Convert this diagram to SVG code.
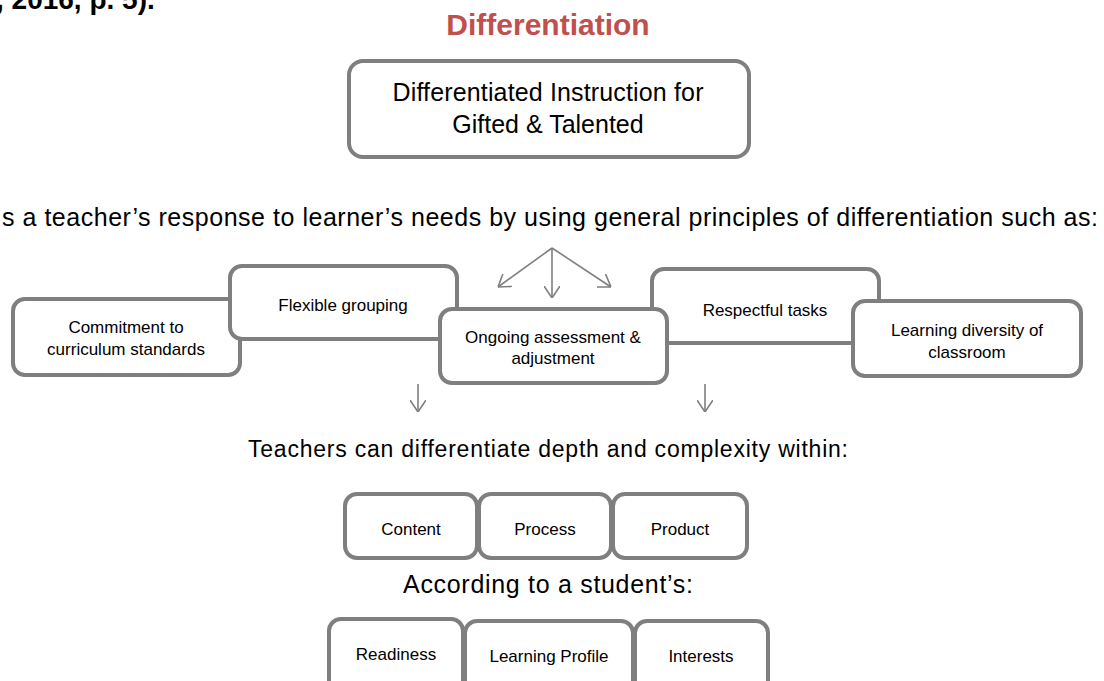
<svg xmlns="http://www.w3.org/2000/svg" width="1104" height="681" viewBox="0 0 1104 681">
<defs>
<marker id="vh" viewBox="0 0 12 16" refX="12" refY="8" markerWidth="12" markerHeight="16" markerUnits="userSpaceOnUse" orient="auto">
<path d="M0,0 L12,8 L0,16" fill="none" stroke="#7f7f7f" stroke-width="1.6"/>
</marker>
<style>
.box{fill:#fff;stroke:#7f7f7f;stroke-width:4}
.t{font-family:"Liberation Sans",Arial,sans-serif;fill:#000;text-anchor:middle}
.s{font-size:17px}
.m{font-size:23px}
.l{font-size:25px}
.c{fill:none;stroke:#7f7f7f;stroke-width:1.6}
</style>
</defs>
<text x="-4" y="9" font-family="Liberation Sans,Arial,sans-serif" font-weight="bold" font-size="28" fill="#000">, 2016, p. 5).</text>
<text class="t" x="548" y="35" font-size="30" font-weight="bold" style="fill:#c0504d">Differentiation</text>
<g id="n-main">
<rect class="box" x="349" y="61" width="400" height="96" rx="14"/>
<text class="t l" x="548" y="101" textLength="311">Differentiated Instruction for</text>
<text class="t l" x="548" y="133">Gifted &amp; Talented</text>
</g>
<text class="t l" x="2" y="226" style="text-anchor:start" textLength="1096">s a teacher’s response to learner’s needs by using general principles of differentiation such as:</text>
<g id="n-commit">
<rect class="box" x="13" y="299" width="227" height="76" rx="12"/>
<text class="t s" x="126" y="333">Commitment to</text>
<text class="t s" x="126" y="355">curriculum standards</text>
</g>
<g id="n-flex">
<rect class="box" x="230" y="266" width="227" height="73" rx="12"/>
<text class="t s" x="343" y="311">Flexible grouping</text>
</g>
<g id="n-resp">
<rect class="box" x="652" y="269" width="227" height="74" rx="12"/>
<text class="t s" x="765" y="316">Respectful tasks</text>
</g>
<g id="n-div">
<rect class="box" x="853" y="301" width="228" height="75" rx="12"/>
<text class="t s" x="967" y="336">Learning diversity of</text>
<text class="t s" x="967" y="358">classroom</text>
</g>
<g id="n-ongoing">
<rect class="box" x="440" y="309" width="227" height="74" rx="12"/>
<text class="t s" x="553" y="343">Ongoing assessment &amp;</text>
<text class="t s" x="553" y="364">adjustment</text>
</g>
<g id="connectors">
<line class="c" x1="552" y1="248" x2="498" y2="287" marker-end="url(#vh)"/>
<line class="c" x1="552" y1="248" x2="552" y2="298" marker-end="url(#vh)"/>
<line class="c" x1="552" y1="248" x2="611" y2="287" marker-end="url(#vh)"/>
<line class="c" x1="418" y1="384" x2="418" y2="412" marker-end="url(#vh)"/>
<line class="c" x1="705" y1="384" x2="705" y2="412" marker-end="url(#vh)"/>
</g>
<text class="t m" x="548" y="457" textLength="600">Teachers can differentiate depth and complexity within:</text>
<g id="n-content">
<rect class="box" x="345" y="494" width="132" height="64" rx="12"/>
<text class="t s" x="411" y="535">Content</text>
</g>
<g id="n-process">
<rect class="box" x="479" y="494" width="132" height="64" rx="12"/>
<text class="t s" x="545" y="535">Process</text>
</g>
<g id="n-product">
<rect class="box" x="613" y="494" width="134" height="64" rx="12"/>
<text class="t s" x="680" y="535">Product</text>
</g>
<text class="t l" x="548" y="593" textLength="290">According to a student’s:</text>
<g id="n-readiness">
<rect class="box" x="329" y="619" width="134" height="80" rx="12"/>
<text class="t s" x="396" y="660">Readiness</text>
</g>
<g id="n-profile">
<rect class="box" x="465" y="621" width="168" height="80" rx="12"/>
<text class="t s" x="549" y="662">Learning Profile</text>
</g>
<g id="n-interests">
<rect class="box" x="635" y="621" width="133" height="80" rx="12"/>
<text class="t s" x="701" y="662">Interests</text>
</g>
</svg>
